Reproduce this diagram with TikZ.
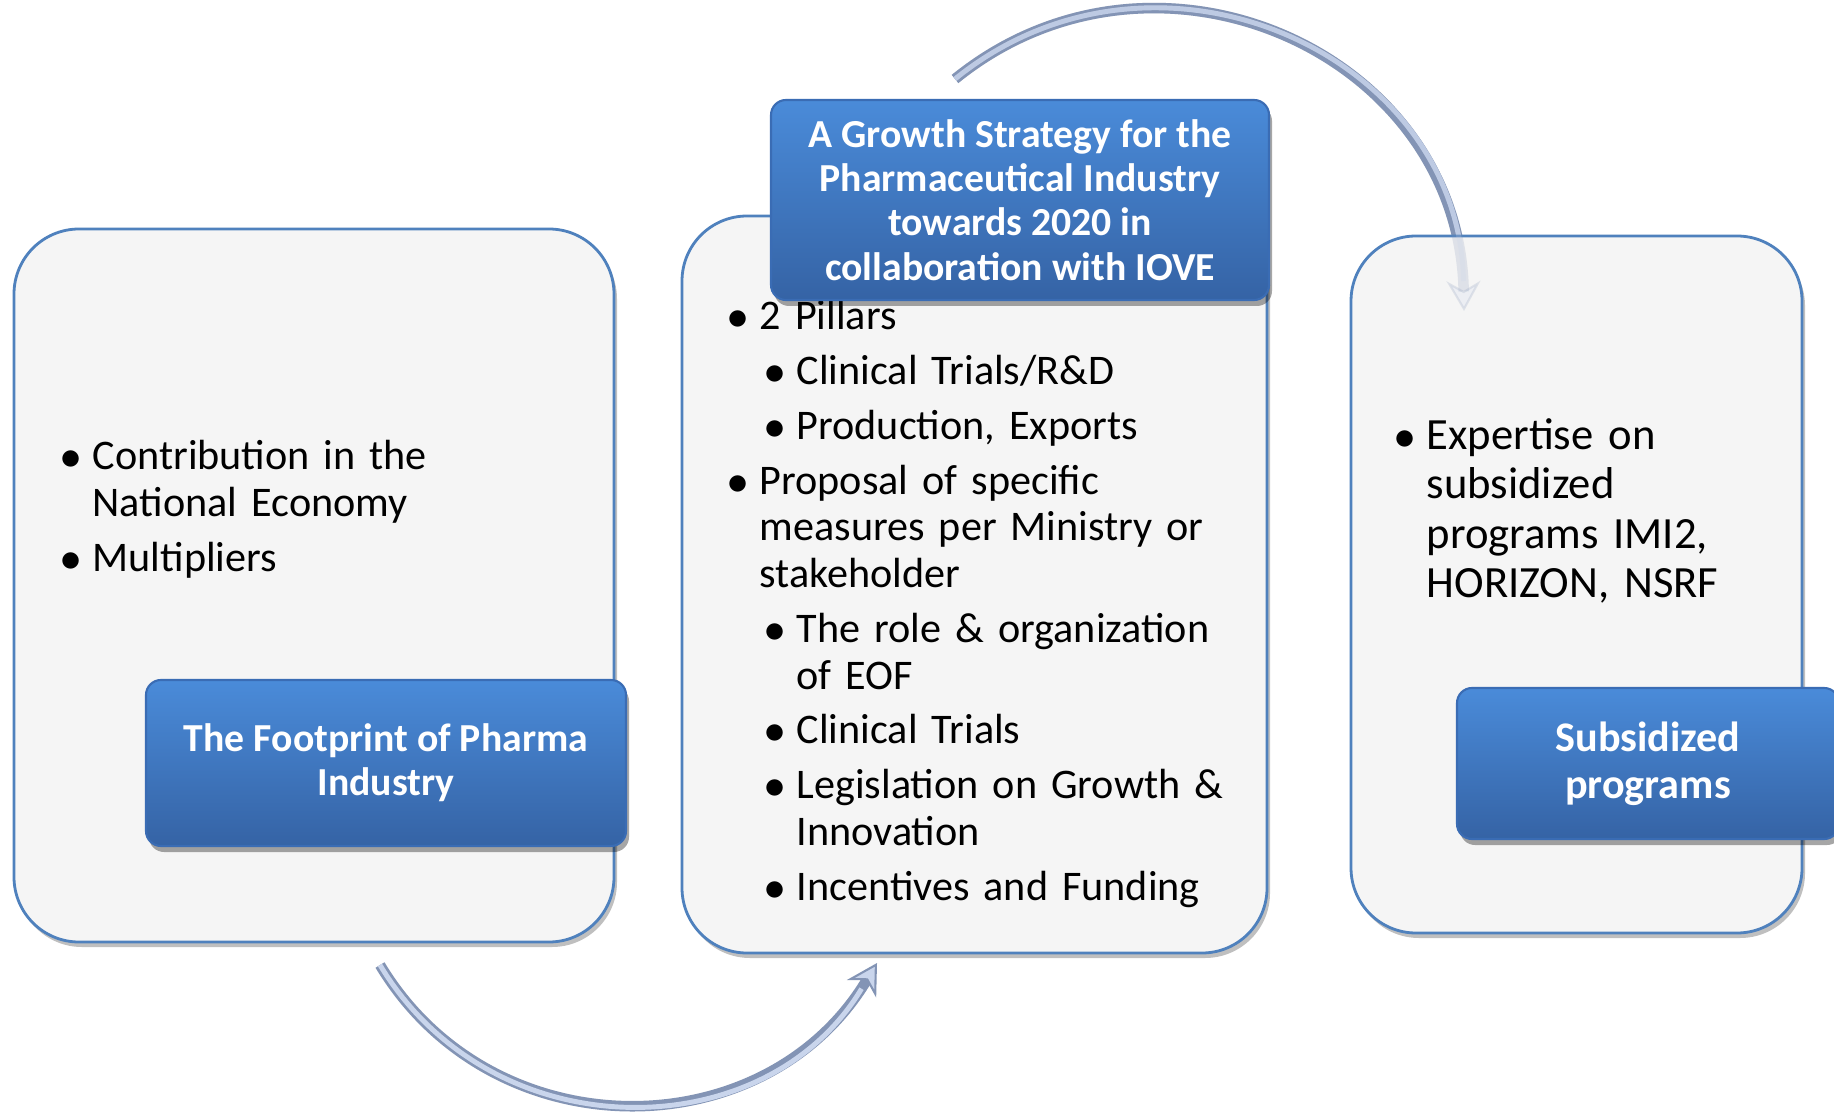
\documentclass[tikz,border=0pt]{standalone}
\usepackage{fontspec}
\setmainfont{Carlito}
\usepackage{tikz}
\usetikzlibrary{arrows.meta}
\usetikzlibrary{shadows}

\definecolor{boxfill}{HTML}{F5F5F5}
\definecolor{boxline}{HTML}{4F81BD}
\definecolor{titletop}{HTML}{4A8BD9}
\definecolor{titlebot}{HTML}{3563A5}
\definecolor{titleline}{HTML}{3A6CB4}
\definecolor{arrowdark}{HTML}{8394B5}
\definecolor{arrowlight}{HTML}{C9D5EC}

\newcommand{\lpoint}[1]{\par\hangindent=0.32cm\hangafter=1\noindent\makebox[0.32cm][l]{$\bullet$}#1}
\newcommand{\spoint}[1]{\par\hangindent=0.69cm\hangafter=1\noindent\hspace*{0.37cm}\makebox[0.32cm][l]{$\bullet$}#1}

\begin{document}
\begin{tikzpicture}[
  outlinebox/.style={draw=boxline, line width=0.8pt, fill=boxfill, rounded corners=0.65cm,
    drop shadow={shadow xshift=0.03cm, shadow yshift=-0.05cm, fill=black, opacity=0.25}},
  titlebox/.style={draw=titleline, line width=0.6pt, top color=titletop, bottom color=titlebot,
    rounded corners=0.15cm, text=white, align=center, font=\bfseries\fontsize{11.3}{12.6}\selectfont,
    drop shadow={shadow xshift=0.03cm, shadow yshift=-0.06cm, fill=black, opacity=0.35}},
  listtext/.style={anchor=north west, inner sep=0pt, text width=#1, align=left,
    font=\fontsize{12}{13.3}\selectfont},
  tubeline/.style={line width=3pt, draw=arrowdark,
    -{Stealth[length=0.3cm, width=0.34cm, fill=arrowlight, line width=0.6pt]}},
  tubecore/.style={line width=1.4pt, draw=arrowlight, shorten >=0.3cm}]

\useasboundingbox (0,0) rectangle (18.34,11.11);
\clip (0,0) rectangle (18.34,11.11);
\fill[white] (0,0) rectangle (18.34,11.11);

\coordinate (botstart) at (3.80,1.46);
\coordinate (botend) at (8.77,1.48);
\coordinate (topstart) at (9.55,10.32);
\coordinate (topend) at (14.64,8.0);

\draw[tubeline] (botstart) to[out=-59,in=239,looseness=1.12] (botend);
\draw[tubecore] (botstart) to[out=-59,in=239,looseness=1.12] (botend);

\draw[tubeline] (topstart) to[out=39,in=91,looseness=1.18] (topend);
\draw[tubecore] (topstart) to[out=39,in=91,looseness=1.18] (topend);

\node[outlinebox, minimum width=6cm, minimum height=7.13cm] (leftbox) at (3.14,5.255) {};
\node[outlinebox, minimum width=5.85cm, minimum height=7.37cm] (midbox) at (9.745,5.265) {};
\node[outlinebox, minimum width=4.51cm, minimum height=6.97cm] (rightbox) at (15.765,5.265) {};

\begin{scope}[opacity=0.2]
\draw[tubeline] (topstart) to[out=39,in=91,looseness=1.18] (topend);
\draw[tubecore] (topstart) to[out=39,in=91,looseness=1.18] (topend);
\end{scope}

\node[listtext=5cm] (lefttext) at (0.60,6.97)
{\setlength{\parskip}{2.3pt}%
\lpoint{Contribution in the\newline National Economy}
\lpoint{Multipliers}\par};

\node[listtext=5.2cm] (midtext) at (7.27,8.37)
{\setlength{\parskip}{2.3pt}%
\lpoint{2 Pillars}
\spoint{Clinical Trials/R\&D}
\spoint{Production, Exports}
\lpoint{Proposal of specific\newline measures per Ministry or\newline stakeholder}
\spoint{The role \& organization\newline of EOF}
\spoint{Clinical Trials}
\spoint{Legislation on Growth \&\newline Innovation}
\spoint{Incentives and Funding}\par};

\node[listtext=4cm, font=\fontsize{12.7}{14.1}\selectfont] (righttext) at (13.94,7.12)
{\lpoint{Expertise on\newline subsidized\newline programs IMI2,\newline HORIZON, NSRF}\par};

\node[titlebox, minimum width=4.8cm, minimum height=1.66cm] (lefttitle) at (3.86,3.48)
{The Footprint of Pharma\\Industry};
\node[titlebox, minimum width=4.98cm, minimum height=2.0cm] (midtitle) at (10.2,9.11)
{A Growth Strategy for the\\Pharmaceutical Industry\\towards 2020 in\\collaboration with IOVE};
\node[titlebox, minimum width=3.82cm, minimum height=1.51cm, font=\bfseries\fontsize{12}{13.3}\selectfont] (righttitle) at (16.48,3.475)
{Subsidized\\programs};

\end{tikzpicture}
\end{document}
